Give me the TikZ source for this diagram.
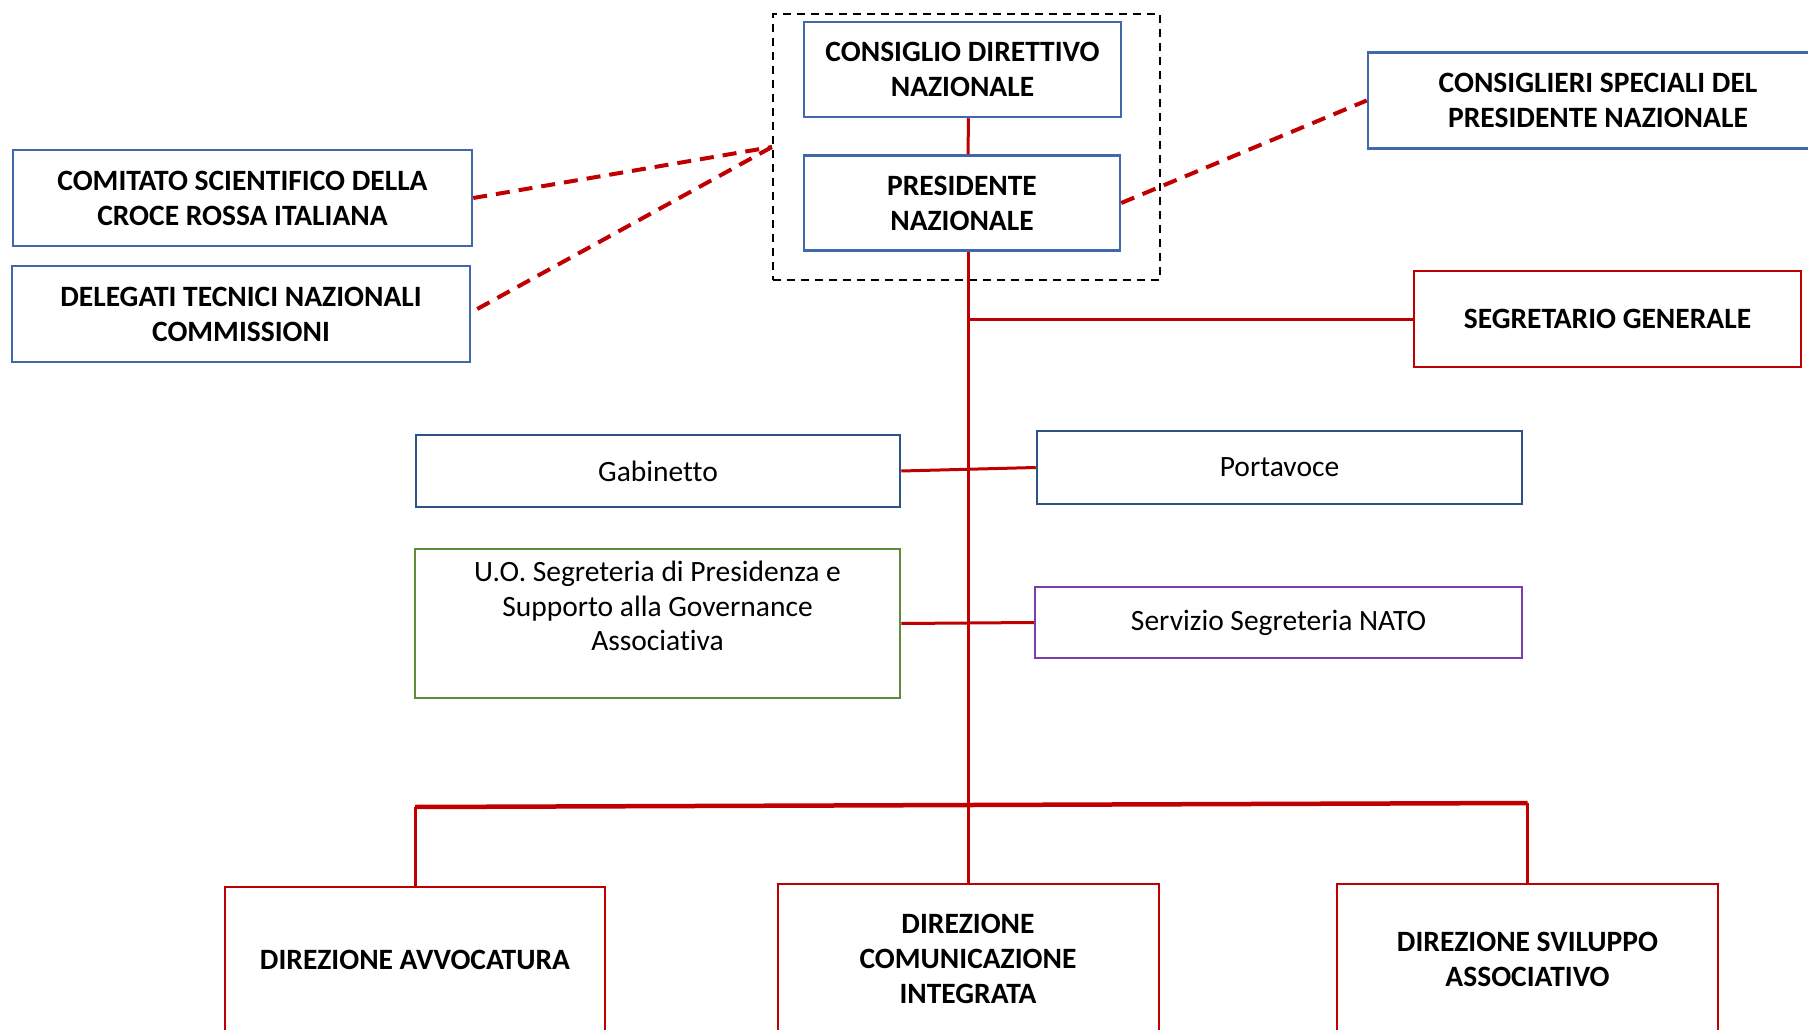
\documentclass[tikz,border=0pt]{standalone}
\usepackage{fontspec}
\setmainfont{Carlito}[Ligatures = NoCommon]
\usetikzlibrary{calc}
\definecolor{criblue}{HTML}{4068AD}
\definecolor{crinavy}{HTML}{2E5283}
\definecolor{crired}{HTML}{C00000}
\definecolor{crigreen}{HTML}{5E8C3A}
\definecolor{cripurple}{HTML}{7A3DAA}
\tikzset {
    box/.style = {draw, rectangle, align = center, inner sep = 4pt, line width = 2.5pt},
    title box/.style = {box, draw = criblue, font = \fontsize{29.5}{35}\selectfont\bfseries},
    head box/.style = {box, draw = crired, font = \fontsize{29.5}{35}\selectfont\bfseries},
    office box/.style = {box, draw = #1, font = \fontsize{29.5}{34.5}\selectfont},
    group box/.style = {draw, rectangle, dash pattern = on 8pt off 6pt, line width = 2pt},
    red line/.style = {draw = crired, line width = 3pt},
    bus line/.style = {draw = crired, line width = 4.5pt},
    dash link/.style = {draw = crired, line width = 4pt, dash pattern = on 14pt off 9pt},
}
\begin{document}
\begin{tikzpicture}[x = 1pt, y = -1pt]
    \useasboundingbox [fill = white] (0, 0) rectangle (1808, 1030);
    \node (grp) [group box, minimum width = 387pt, minimum height = 266pt] at (966.5, 147) {};
    \node (cdn) [title box, minimum width = 317pt, minimum height = 95pt] at (962.5, 69.5) {CONSIGLIO DIRETTIVO\\NAZIONALE};
    \node (pn) [title box, minimum width = 316pt, minimum height = 95pt] at (962, 203) {PRESIDENTE\\NAZIONALE};
    \node (csp) [title box, minimum width = 460pt, minimum height = 96pt] at (1598, 100.5) {CONSIGLIERI SPECIALI DEL\\PRESIDENTE NAZIONALE};
    \node (csi) [title box, minimum width = 459pt, minimum height = 96pt] at (242.5, 198) {COMITATO SCIENTIFICO DELLA\\CROCE ROSSA ITALIANA};
    \node (dtn) [title box, minimum width = 458pt, minimum height = 96pt] at (241, 314) {DELEGATI TECNICI NAZIONALI\\COMMISSIONI};
    \node (sg) [head box, minimum width = 387pt, minimum height = 96pt] at (1607.5, 319) {SEGRETARIO GENERALE};
    \node (gab) [office box = crinavy, minimum width = 484pt, minimum height = 72pt] at (658, 471) {Gabinetto};
    \node (port) [office box = crinavy, minimum width = 485pt, minimum height = 73pt] at (1279.5, 467.5) {Portavoce};
    \node (uo) [office box = crigreen, minimum width = 485pt, minimum height = 149pt, text depth = 35pt] at (657.5, 623.5) {U.O. Segreteria di Presidenza e\\Supporto alla Governance\\Associativa};
    \node (nato) [office box = cripurple, minimum width = 487pt, minimum height = 71pt] at (1278.5, 622.5) {Servizio Segreteria NATO};
    \node (dav) [head box, line width = 2pt, minimum width = 380pt, minimum height = 146pt] at (415, 960) {DIREZIONE AVVOCATURA};
    \node (dci) [head box, line width = 2pt, minimum width = 381pt, minimum height = 150pt] at (968, 959) {DIREZIONE\\COMUNICAZIONE\\INTEGRATA};
    \node (dsa) [head box, line width = 2pt, minimum width = 381pt, minimum height = 150pt] at (1527.5, 959) {DIREZIONE SVILUPPO\\ASSOCIATIVO};
    % links
    \coordinate (top) at ([xshift = 6pt]pn.south);
    \draw [red line] ([xshift = 6pt]cdn.south) -- ([xshift = 6pt]pn.north);
    \draw [red line] (top) -- (top |- dci.north);
    \draw [red line] (top |- sg.west) -- (sg.west);
    \draw [red line] (gab.east) -- (port.west);
    \draw [red line] (uo.east) -- (nato.west);
    \draw [red line] (dav.north) -- ++(0, -79);
    \draw [red line] (dsa.north) -- ++(0, -80);
    \draw [bus line] ($(dav.north) + (0, -79)$) -- ($(dsa.north) + (0, -80)$);
    \draw [dash link] (csi.east) -- (grp.west);
    \draw [dash link] ($(dtn.east) + (6, -5)$) -- (grp.west);
    \draw [dash link] (pn.east) -- (csp.west);
\end{tikzpicture}
\end{document}
